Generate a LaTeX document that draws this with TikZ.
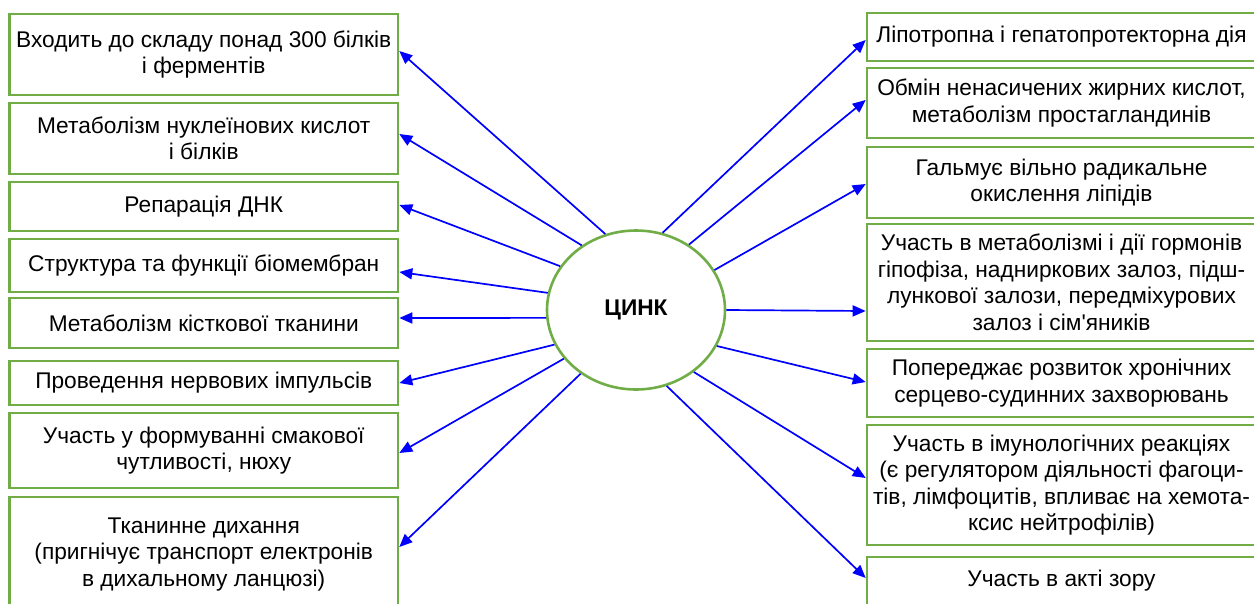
\documentclass[tikz,border=0pt]{standalone}
\usepackage{fontspec}
\setmainfont{Liberation Sans}
\usetikzlibrary{shapes.geometric,arrows.meta}
\definecolor{boxgreen}{HTML}{70AD47}
\definecolor{arrblue}{HTML}{0000FF}
\tikzset{
  fbox/.style={draw=boxgreen, line width=2.6pt, rectangle, inner sep=0pt, align=center,
    font=\fontsize{22.7}{26.5}\selectfont, text=black},
  lbox/.style={fbox, minimum width=388.5pt},
  rbox/.style={fbox, minimum width=389pt},
  hub/.style={draw=boxgreen, line width=2.6pt, ellipse, inner sep=0pt,
    minimum width=178pt, minimum height=159pt, font=\fontsize{22.7}{26}\selectfont\bfseries},
  arr/.style={draw=arrblue, line width=1.7pt, -{Triangle[length=13pt,width=11pt]}}
}
\begin{document}
\begin{tikzpicture}[x=1pt,y=-1pt]
\useasboundingbox (0,0) rectangle (1254,603);
\clip (0,0) rectangle (1254,603);
% hub
\node[hub] (zinc) at (636,310) {ЦИНК};
% left boxes
\node[lbox, minimum height=81pt]  (L1) at (203.75,54.5) {Входить до складу понад 300 білків\\і ферментів};
\node[lbox, minimum height=71pt]  (L2) at (203.75,138.5) {Метаболізм нуклеїнових кислот\\і білків};
\node[lbox, minimum height=49pt]  (L3) at (203.75,206.5) {Репарація ДНК};
\node[lbox, minimum height=53pt]  (L4) at (203.75,265.5) {Структура та функції біомембран};
\node[lbox, minimum height=50pt]  (L5) at (203.75,323) {Метаболізм кісткової тканини};
\node[lbox, minimum height=44pt]  (L6) at (203.75,383) {Проведення нервових імпульсів};
\node[lbox, minimum height=75pt]  (L7) at (203.75,450.5) {Участь у формуванні смакової\\чутливості, нюху};
\node[lbox, minimum height=115pt] (L8) at (203.75,554.5) {Тканинне дихання\\(пригнічує транспорт електронів\\в дихальному ланцюзі)};
% right boxes
\node[rbox, minimum height=48pt]  (R1) at (1061.5,37) {Ліпотропна і гепатопротекторна дія};
\node[rbox, minimum height=70pt]  (R2) at (1061.5,103) {Обмін ненасичених жирних кислот,\\метаболізм простагландинів};
\node[rbox, minimum height=71pt]  (R3) at (1061.5,182.5) {Гальмує вільно радикальне\\окислення ліпідів};
\node[rbox, minimum height=117pt] (R4) at (1061.5,282.5) {Участь в метаболізмі і дії гормонів\\гіпофіза, надниркових залоз, підш-\\лункової залози, передміхурових\\залоз і сім\textquotesingle яників};
\node[rbox, minimum height=68pt]  (R5) at (1061.5,383) {Попереджає розвиток хронічних\\серцево-судинних захворювань};
\node[rbox, minimum height=120pt] (R6) at (1061.5,485) {Участь в імунологічних реакціях\\(є регулятором діяльності фагоци-\\тів, лімфоцитів, впливає на хемота-\\ксис нейтрофілів)};
\node[rbox, minimum height=48pt]  (R7) at (1061.5,581) {Участь в акті зору};
% arrows to the left
\draw[arr] (zinc.112) -- (L1.east |- 0,51);
\draw[arr] (zinc.130) -- (L2.east |- 0,134);
\draw[arr] (zinc.150) -- (L3.east |- 0,205);
\draw[arr] (zinc.169) -- (L4.east |- 0,272);
\draw[arr] (zinc.185) -- (L5.east |- 0,318);
\draw[arr] (zinc.203) -- (L6.east |- 0,383);
\draw[arr] (zinc.214) -- (L7.east |- 0,453);
\draw[arr] (zinc.229) -- (L8.east |- 0,547);
% arrows to the right
\draw[arr] (zinc.71)  -- (R1.west |- 0,40);
\draw[arr] (zinc.51)  -- (R2.west |- 0,100);
\draw[arr] (zinc.27)  -- (R3.west |- 0,184);
\draw[arr] (zinc.0)   -- (R4.west |- 0,311);
\draw[arr] (zinc.-24) -- (R5.west |- 0,382);
\draw[arr] (zinc.-47) -- (R6.west |- 0,478);
\draw[arr] (zinc.-68) -- (R7.west |- 0,578);
\end{tikzpicture}
\end{document}
